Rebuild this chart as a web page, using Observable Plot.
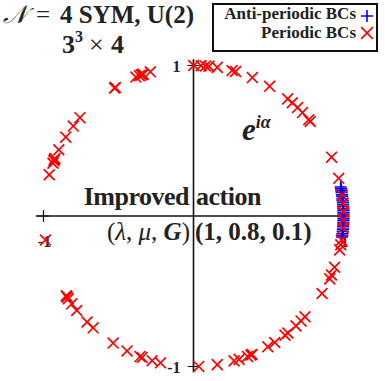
<!DOCTYPE html>
<html>
<head>
<meta charset="utf-8">
<script src="https://cdn.jsdelivr.net/npm/d3@7"></script>
<script src="https://cdn.jsdelivr.net/npm/@observablehq/plot@0.6"></script>
<style>
  html, body { margin: 0; padding: 0; background: #fff; }
  #chart svg { display: block; }
  .t { font-family: "Liberation Serif", "DejaVu Serif", serif; font-weight: bold; fill: #222; text-anchor: start; }
  .t.end { text-anchor: end; }
</style>
</head>
<body>
<div id="chart"></div>
<script>
// Phase angles (degrees) of the eigenvalues e^{iα}
const periodicDeg = [
  89.9, 87.1, 85.4, 84.1, 80.9, 75.1, 73.7, 66.9, 59.5, 51.1, 48.8, 46.1, 43.4,
  39.8, 38.9, 23.0, 14.5, 8.0, 4.9, 1.7, -1.5, -4.6, -9.2, -11.0, -13.0,
  -19.9, -23.1, -24.7, -31.0, -42.0, -44.2, -46.9, -51.0, -52.4, -57.2, -60.3,
  -67.0, -67.5, -68.9, -72.3, -74.3, -80.9, -88.0,
  106.7, 109.6, 110.0, 110.4, 111.2, 112.6, 121.4, 121.8, 139.2, 143.3, 148.4,
  153.9, 157.5, 158.0, 158.5, 159.5, 164.1, 189.2,
  212.0, 212.2, 212.6, 213.4, 215.7, 218.9, 224.8, 228.0, 237.6, 243.7, 249.1,
  250.0, 254.0, 257.3
];
const antiPeriodicDeg = [
  11.1, 10.4, 9.6, 9.0, 8.1, 7.5, 6.6, 5.8, 5.1, 4.3, 3.6, 2.7, 2.0, 1.2, 0.5,
  -0.3, -1.1, -1.8, -2.6, -3.4, -4.1, -5.0, -5.8, -6.7, -7.4, -8.0
];
const axisTicks = [-1, 1];
const legendLabels = ["Anti-periodic BCs", "Periodic BCs"];
const titleParts = ["\u{1D4A9}", "=", "4 SYM, U(2)"];
const subtitleParts = ["3", "3", "\u00D7", "4"];
const actionLabel = ["Improved", "action"];
const paramLabel = ["(", "\u03BB", ", ", "\u03BC", ", ", "G", ")", "(1, 0.8, 0.1)"];

const toXY = (deg) => ({x: Math.cos(deg * Math.PI / 180), y: Math.sin(deg * Math.PI / 180)});
const periodic = periodicDeg.map(toXY);
const anti = antiPeriodicDeg.map(toXY);
const xTicks = axisTicks.map(v => ({x: v, y: 0}));
const yTicks = axisTicks.map(v => ({x: 0, y: v}));

const plot = Plot.plot({
  width: 385,
  height: 381,
  marginLeft: 43,
  marginRight: 42,
  marginTop: 65,
  marginBottom: 15,
  x: {domain: [-1, 1], axis: null},
  y: {domain: [-1, 1], axis: null},
  marks: [
    Plot.ruleY([0], {x1: -1.047, x2: 1.033, stroke: "#111", strokeWidth: 1.6}),
    Plot.ruleX([0], {y1: -1.037, y2: 1.037, stroke: "#111", strokeWidth: 1.6}),
    Plot.dot([...xTicks, ...yTicks], {x: "x", y: "y", symbol: "plus", r: 3.9, stroke: "#111", strokeWidth: 1.2}),
    Plot.text(yTicks, {x: "x", y: "y", text: d => String(d.y), dx: -13, dy: 1, textAnchor: "end", fontSize: 16, fontWeight: "bold", fontFamily: "Liberation Serif", fill: "#222"}),
    Plot.text(xTicks, {x: "x", y: "y", text: d => String(d.x), dx: 1, dy: 26, textAnchor: "middle", fontSize: 16, fontWeight: "bold", fontFamily: "Liberation Serif", fill: "#222"}),
    Plot.dot(anti, {x: "x", y: "y", symbol: "plus", r: 4, stroke: "#0000ff", strokeWidth: 1.6}),
    Plot.dot(periodic, {x: "x", y: "y", symbol: "times", r: 5, stroke: "#ff0000", strokeWidth: 1.7})
  ]
});
document.getElementById("chart").appendChild(plot);

const svg = d3.select(plot);
// Title
const t1 = svg.append("text").attr("class", "t").attr("y", 22.5).attr("font-size", 25);
t1.append("tspan").attr("x", 3).attr("font-weight", "normal").attr("font-style", "italic").text(titleParts[0]);
t1.append("tspan").attr("x", 36).attr("font-weight", "normal").text(titleParts[1]);
t1.append("tspan").attr("x", 60).text(titleParts[2]);
const t2 = svg.append("text").attr("class", "t").attr("y", 53).attr("font-size", 26);
t2.append("tspan").attr("x", 62).text(subtitleParts[0]);
t2.append("tspan").attr("font-size", 16).attr("dy", -11).text(subtitleParts[1]);
t2.append("tspan").attr("x", 89).attr("dy", 11).attr("font-weight", "normal").text(subtitleParts[2]);
t2.append("tspan").attr("x", 111).text(subtitleParts[3]);

// Legend
svg.append("rect").attr("x", 213).attr("y", 4).attr("width", 164).attr("height", 47)
  .attr("fill", "#fff").attr("stroke", "#111").attr("stroke-width", 2);
svg.append("text").attr("class", "t end").attr("x", 356).attr("y", 19).attr("font-size", 17)
  .text(legendLabels[0]);
svg.append("text").attr("class", "t end").attr("x", 356).attr("y", 38).attr("font-size", 17)
  .text(legendLabels[1]);
svg.append("path").attr("transform", "translate(367,16)")
  .attr("d", d3.symbol(d3.symbolPlus, 50)()).attr("fill", "none").attr("stroke", "#0000ff").attr("stroke-width", 1.6);
svg.append("path").attr("transform", "translate(367,33)")
  .attr("d", d3.symbol(d3.symbolTimes, 90)()).attr("fill", "none").attr("stroke", "#ff0000").attr("stroke-width", 1.7);

// e^{iα}
const e = svg.append("text").attr("class", "t").attr("x", 242).attr("y", 140)
  .attr("font-size", 31).attr("font-style", "italic");
e.append("tspan").text("e");
e.append("tspan").attr("font-size", 18).attr("dy", -12).text("i\u03B1");

// Improved action
svg.append("text").attr("class", "t end").attr("x", 189).attr("y", 205).attr("font-size", 26)
  .attr("letter-spacing", -0.5).text(actionLabel[0]);
svg.append("text").attr("class", "t").attr("x", 196).attr("y", 205).attr("font-size", 26)
  .attr("letter-spacing", -0.5).text(actionLabel[1]);

// parameters
const p1 = svg.append("text").attr("class", "t end").attr("x", 190).attr("y", 240).attr("font-size", 25);
p1.append("tspan").attr("font-weight", "normal").text(paramLabel[0]);
p1.append("tspan").attr("font-weight", "normal").attr("font-style", "italic").text(paramLabel[1]);
p1.append("tspan").attr("font-weight", "normal").text(paramLabel[2]);
p1.append("tspan").attr("font-weight", "normal").attr("font-style", "italic").text(paramLabel[3]);
p1.append("tspan").attr("font-weight", "normal").text(paramLabel[4]);
p1.append("tspan").attr("font-style", "italic").text(paramLabel[5]);
p1.append("tspan").attr("font-weight", "normal").text(paramLabel[6]);
svg.append("text").attr("class", "t").attr("x", 195).attr("y", 240).attr("font-size", 25)
  .text(paramLabel[7]);
</script>
</body>
</html>
